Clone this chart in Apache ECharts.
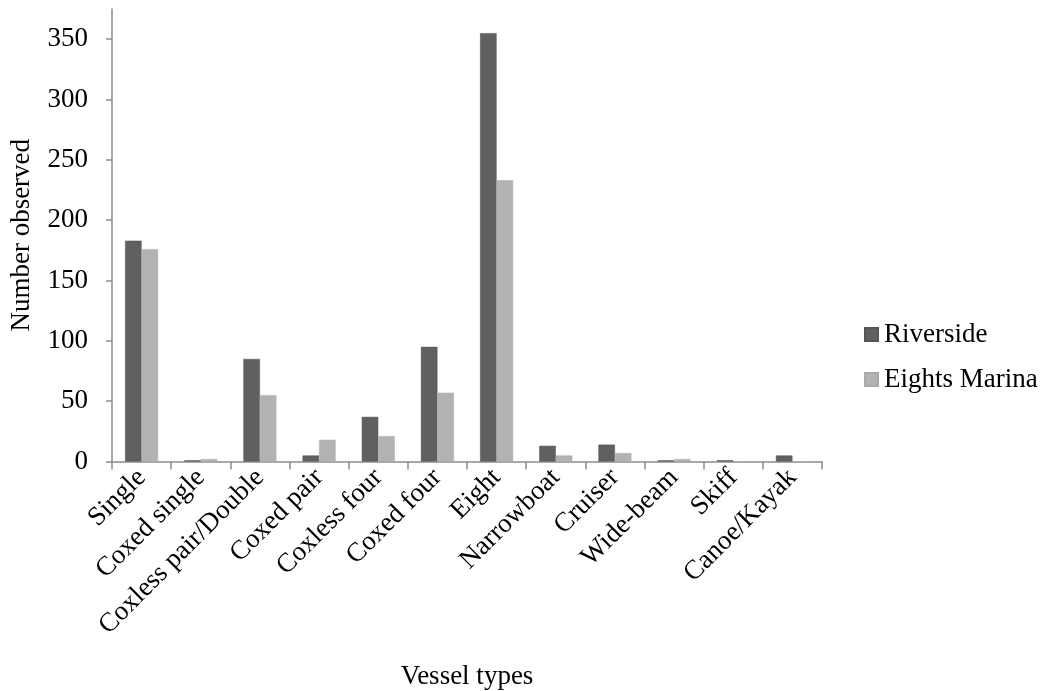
<!DOCTYPE html>
<html><head><meta charset="utf-8">
<script src="https://cdn.jsdelivr.net/npm/echarts@6/dist/echarts.min.js"></script>
<style>html,body{margin:0;padding:0;background:#fff}#c{width:1045px;height:691px}</style>
</head><body><div id="c"></div>
<script>
const categories = ["Single","Coxed single","Coxless pair/Double","Coxed pair","Coxless four","Coxed four","Eight","Narrowboat","Cruiser","Wide-beam","Skiff","Canoe/Kayak"];
const riverside = [183, 1, 85, 5, 37, 95, 355, 13, 14, 1, 1, 5];
const eightsMarina = [176, 2, 55, 18, 21, 57, 233, 5, 7, 2, 0, 0];
const yTicks = [0, 50, 100, 150, 200, 250, 300, 350];

const font = "'Liberation Serif', 'Times New Roman', serif";
const axisCol = '#8c8c8c';
const fs = 27;
const chart = echarts.init(document.getElementById('c'));
chart.setOption({
  animation: false,
  textStyle: { fontFamily: font },
  grid: { left: 112, right: 223, top: 9, bottom: 229.5, containLabel: false, outerBoundsMode: 'none' },
  legend: {
    orient: 'vertical', left: 859, top: 316, itemWidth: 13, itemHeight: 13, itemGap: 18,
    icon: 'rect',
    textStyle: { fontFamily: font, fontSize: fs, color: '#000', padding: [0, 0, 0, 1] },
    data: ['Riverside', 'Eights Marina']
  },
  xAxis: {
    type: 'category', data: categories,
    name: 'Vessel types', nameLocation: 'middle', nameGap: 202,
    nameTextStyle: { fontFamily: font, fontSize: fs, color: '#000' },
    axisLine: { lineStyle: { color: axisCol, width: 1.5 } },
    axisTick: { show: true, alignWithLabel: false, length: 8, lineStyle: { color: axisCol, width: 1.5 } },
    axisLabel: { rotate: 45, interval: 0, fontFamily: font, fontSize: fs, color: '#000', margin: 12 }
  },
  yAxis: {
    type: 'value', min: 0, max: 375, interval: 25,
    name: 'Number observed', nameLocation: 'middle', nameGap: 77,
    nameTextStyle: { fontFamily: font, fontSize: fs, color: '#000' },
    splitLine: { show: false },
    axisLine: { show: true, lineStyle: { color: axisCol, width: 1.5 } },
    axisTick: { show: true, length: 6, customValues: yTicks, lineStyle: { color: axisCol, width: 1.5 } },
    axisLabel: { customValues: yTicks, fontFamily: font, fontSize: fs, color: '#000', margin: 24 }
  },
  series: [
    { name: 'Riverside', type: 'bar', data: riverside, barWidth: 16.5, barGap: '0%',
      itemStyle: { color: '#606060', borderColor: '#555', borderWidth: 0.5 } },
    { name: 'Eights Marina', type: 'bar', data: eightsMarina, barWidth: 16.5,
      itemStyle: { color: '#b3b3b3', borderColor: '#aaa', borderWidth: 0.5 } }
  ]
});
</script></body></html>
